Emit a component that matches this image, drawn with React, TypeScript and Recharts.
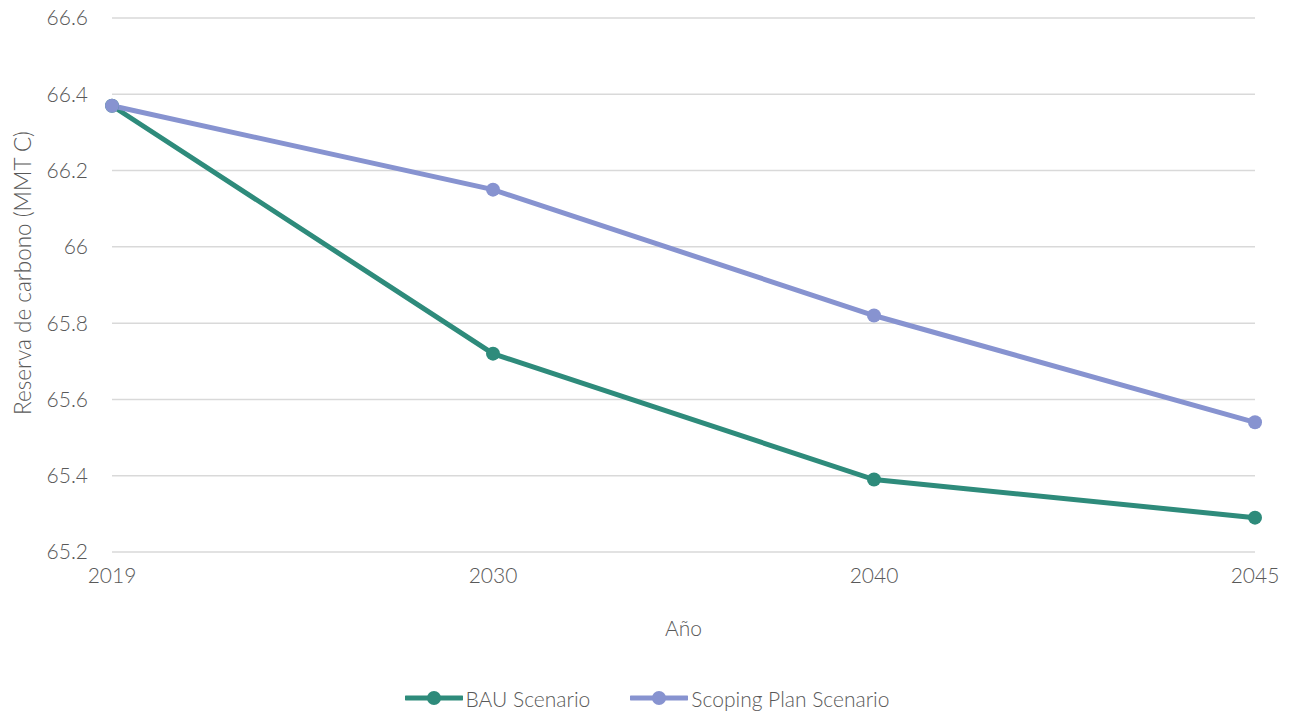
import { LineChart, Line, XAxis, YAxis, CartesianGrid, Legend } from 'recharts';

// reserva de carbono por año, dos escenarios
const years = ['2019', '2030', '2040', '2045'];
const bauValues = [66.37, 65.72, 65.39, 65.29];
const scopingValues = [66.37, 66.15, 65.82, 65.54];
const yTicks = [65.2, 65.4, 65.6, 65.8, 66, 66.2, 66.4, 66.6];

const BAU_COLOR = '#2e8b7b';
const SCOPING_COLOR = '#8793d0';
const TEXT = '#595959';
const FONT = 'Lato, "Open Sans", sans-serif';
const WEIGHT = 300;

const data = years.map((year, i) => ({ year, bau: bauValues[i], scoping: scopingValues[i] }));

const series = [
  { key: 'bau', name: 'BAU Scenario', color: BAU_COLOR },
  { key: 'scoping', name: 'Scoping Plan Scenario', color: SCOPING_COLOR },
];

function LegendContent() {
  return (
    <div
      style={{
        display: 'flex',
        justifyContent: 'center',
        alignItems: 'center',
        gap: 40,
        height: 72,
        boxSizing: 'border-box',
        paddingTop: 40,
        fontFamily: FONT,
        fontWeight: WEIGHT,
        fontSize: 21,
        color: TEXT,
      }}
    >
      {series.map(s => (
        <div key={s.key} style={{ display: 'flex', alignItems: 'center' }}>
          <svg width={58} height={20} style={{ marginRight: 3 }}>
            <line x1={1} y1={10} x2={57} y2={10} stroke={s.color} strokeWidth={5} strokeLinecap="round" />
            <circle cx={29} cy={10} r={7} fill={s.color} />
          </svg>
          <span>{s.name}</span>
        </div>
      ))}
    </div>
  );
}

function YLabel({ viewBox }: any) {
  const x = viewBox.x + 22;
  const y = viewBox.y + viewBox.height / 2 - 12;
  return (
    <text
      x={x}
      y={y}
      transform={`rotate(-90, ${x}, ${y})`}
      textAnchor="middle"
      dominantBaseline="central"
      fill={TEXT}
      fontSize={22.5}
      fontFamily={FONT}
      fontWeight={WEIGHT}
    >
      Reserva de carbono (MMT C)
    </text>
  );
}

export default function App() {
  return (
    <div style={{ position: 'absolute', left: 0, top: 0, width: 1294, height: 714, background: '#fff' }}>
      <LineChart width={1294} height={714} data={data} margin={{ top: 18, right: 39, left: 0, bottom: 0 }}>
        <CartesianGrid stroke="#d9d9d9" strokeWidth={1.5} vertical={false} />
        <XAxis
          dataKey="year"
          height={90}
          axisLine={false}
          tickLine={false}
          tickMargin={10}
          tick={{ fill: TEXT, fontSize: 21, fontFamily: FONT, fontWeight: WEIGHT }}
          label={{ value: 'Año', position: 'insideBottom', offset: 6, fill: TEXT, fontSize: 21, fontFamily: FONT, fontWeight: WEIGHT }}
        />
        <YAxis
          width={112}
          domain={[65.2, 66.6]}
          ticks={yTicks}
          interval={0}
          axisLine={false}
          tickLine={false}
          tickMargin={18}
          tick={{ fill: TEXT, fontSize: 21, fontFamily: FONT, fontWeight: WEIGHT }}
          label={<YLabel />}
        />
        <Legend verticalAlign="bottom" height={72} wrapperStyle={{ left: 0, width: 1294 }} content={<LegendContent />} />
        {series.map(s => (
          <Line
            key={s.key}
            dataKey={s.key}
            name={s.name}
            stroke={s.color}
            strokeWidth={5}
            dot={{ r: 7, fill: s.color, stroke: s.color, strokeWidth: 0 }}
            activeDot={false}
            isAnimationActive={false}
          />
        ))}
      </LineChart>
    </div>
  );
}
